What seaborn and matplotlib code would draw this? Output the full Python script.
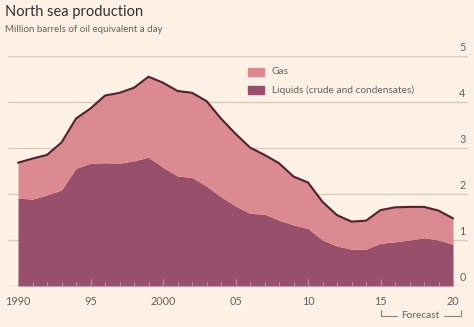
import numpy as np
import pandas as pd
import matplotlib
matplotlib.use("Agg")
import matplotlib.pyplot as plt
import seaborn as sns

years = list(range(1990, 2021))
liquids = [1.91, 1.89, 1.98, 2.09, 2.56, 2.67, 2.68, 2.67, 2.72, 2.80,
           2.58, 2.39, 2.36, 2.17, 1.94, 1.74, 1.58, 1.56, 1.43, 1.33,
           1.25, 1.00, 0.87, 0.80, 0.80, 0.93, 0.96, 1.00, 1.05, 1.00, 0.91]
total = [2.68, 2.77, 2.85, 3.12, 3.64, 3.86, 4.14, 4.20, 4.31, 4.55,
         4.42, 4.24, 4.20, 4.02, 3.64, 3.31, 3.01, 2.85, 2.67, 2.38,
         2.25, 1.83, 1.54, 1.40, 1.42, 1.65, 1.71, 1.72, 1.72, 1.64, 1.47]
gas = [round(t - l, 2) for t, l in zip(total, liquids)]
x_ticks = [1990, 1995, 2000, 2005, 2010, 2015, 2020]
x_labels = ["1990", "95", "2000", "05", "10", "15", "20"]
y_ticks = [0, 1, 2, 3, 4, 5]
series_names = ["Gas", "Liquids (crude and condensates)"]

df = pd.DataFrame({"year": years, "liquids": liquids, "gas": gas})
df["total"] = df["liquids"] + df["gas"]

BG = "#FFF1E5"
GAS_C = "#DA8A90"
LIQ_C = "#984F6B"
LINE_C = "#5A1E2C"
GRID_C = "#D8CCC0"
TXT = "#66605C"

sns.set_theme(style="white")
plt.rcParams["font.family"] = ["Lato", "DejaVu Sans"]

W, H = 474, 327
fig = plt.figure(figsize=(W / 100, H / 100), dpi=100, facecolor=BG)

def fx(px):
    return px / W

def fy(py):
    return 1 - py / H

ppy = (453 - 18) / 30.0
x0 = 1990 - (18 - 8) / ppy
x1 = 2020 + (470 - 453) / ppy
ax = fig.add_axes([fx(8), fy(286), fx(470) - fx(8), fy(56) - fy(286)])
ax.set_facecolor(BG)
ax.set_xlim(x0, x1)
ax.set_ylim(0, 5)

for yv in y_ticks:
    ax.axhline(yv, xmin=0, xmax=(467 - 8) / (470 - 8), color="#B8AFA8" if yv == 0 else GRID_C,
               lw=1.0, zorder=0.5)

ax.fill_between(df["year"], 0, df["liquids"], color=LIQ_C, lw=0, zorder=2)
ax.fill_between(df["year"], df["liquids"], df["total"], color=GAS_C, lw=0, zorder=2)
sns.lineplot(data=df, x="year", y="total", ax=ax, color=LINE_C, lw=1.5, zorder=3, legend=False)
if ax.get_legend() is not None:
    ax.get_legend().remove()

for s in ax.spines.values():
    s.set_visible(False)
ax.set_xlabel("")
ax.set_ylabel("")
ax.set_yticks([])
ax.set_xticks(x_ticks)
ax.set_xticklabels([])
ax.set_xticks(years, minor=True)
ax.tick_params(axis="x", which="major", direction="in", length=5, width=0.8, color="#C38DA2", bottom=True, pad=6)
ax.tick_params(axis="x", which="minor", direction="in", length=3, width=0.8, color="#C38DA2", bottom=True)
ax.xaxis.set_zorder(5)

# x labels
for xv, lab in zip(x_ticks, x_labels):
    ax.text(xv, -0.33, lab, ha="center", va="center", fontsize=7.8, color=TXT)
# y labels on right
for yv in y_ticks:
    ax.text(x1 - 0.3, yv + 0.06, str(yv), ha="right", va="bottom", fontsize=7.8, color=TXT)

# title
fig.text(fx(5), fy(12), "North sea production", fontsize=10.5, color="#33302E", va="center", ha="left")
fig.text(fx(5), fy(29), "Million barrels of oil equivalent a day", fontsize=7.0, color=TXT, va="center", ha="left")

# legend
for i, (name, col) in enumerate(zip(series_names, [GAS_C, LIQ_C])):
    yc = 72 + i * 18
    fig.patches.append(plt.Rectangle((fx(248), fy(yc + 4)), fx(264) - fx(248), fy(yc - 4) - fy(yc + 4),
                                     transform=fig.transFigure, color=col, zorder=5))
    fig.text(fx(272), fy(yc), name, fontsize=7.3, color=TXT, va="center", ha="left")

# forecast bracket
lw = 0.8
fig.add_artist(plt.Line2D([fx(381), fx(381), fx(397)], [fy(310), fy(316), fy(316)], transform=fig.transFigure, color="#8A837E", lw=lw))
fig.add_artist(plt.Line2D([fx(444), fx(461), fx(461)], [fy(316), fy(316), fy(310)], transform=fig.transFigure, color="#8A837E", lw=lw))
fig.text(fx(420.5), fy(316), "Forecast", fontsize=7.3, color=TXT, va="center", ha="center")

fig.savefig("out.png", dpi=100, facecolor=BG)
